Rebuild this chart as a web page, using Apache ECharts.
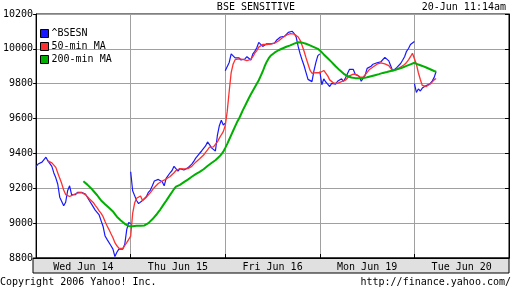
<!DOCTYPE html>
<html><head><meta charset="utf-8">
<script src="https://cdn.jsdelivr.net/npm/echarts@6/dist/echarts.min.js"></script>
<style>html,body{margin:0;padding:0;background:#fff}#c{width:512px;height:288px}</style>
</head><body><div id="c"></div>
<script>
// ---- data ----
const days = ['Wed Jun 14', 'Thu Jun 15', 'Fri Jun 16', 'Mon Jun 19', 'Tue Jun 20'];
const yMin = 8800, yMax = 10200, yStep = 200;
const stepsPerDay = 48; // samples per trading day

// ^BSESN price, one array per day (sample 0..48 of each day)
const priceWed = [9326,9339,9350,9350,9365,9378,9357,9350,9326,9288,9260,9223,9149,9140,9100,9120,9186,9214,9164,9167,9164,9177,9182,9177,9186,9167,9158,9130,9112,9102,9075,9075,9047,9013,8981,8926,8907,8898,8870,8851,8808,8833,8851,8855,8851,8879,8963,9004,8996];
const priceThu = [9295,9186,9158,9130,9112,9112,9130,9140,9153,9177,9190,9214,9242,9238,9251,9242,9238,9214,9257,9264,9289,9302,9326,9335,9298,9313,9320,9305,9302,9317,9320,9339,9354,9373,9382,9401,9414,9425,9443,9466,9451,9432,9429,9414,9503,9559,9590,9563,9574];
const priceFri = [9874,9878,9922,9971,9967,9948,9948,9948,9936,9942,9942,9955,9951,9936,9971,9986,10006,10037,10029,10014,10021,10029,10025,10029,10029,10033,10049,10058,10068,10076,10072,10080,10095,10103,10101,10087,10068,10014,9971,9936,9903,9864,9825,9819,9812,9874,9922,9961,9971];
const priceMon = [9870,9794,9828,9810,9798,9784,9802,9802,9798,9814,9804,9828,9814,9833,9841,9882,9877,9882,9853,9845,9843,9814,9833,9849,9888,9896,9900,9912,9904,9920,9920,9926,9922,9951,9959,9931,9902,9873,9873,9892,9900,9916,9935,9955,9986,10002,10025,10036,10042];
const priceTue = [9800,9750,9770,9758,9775,9780,9790,9795,9800,9815,9835,9870];

// 50-min moving average (sample 0..47 of each day)
const ma50Wed = [null,null,null,null,null,null,9357,9353,9346,9335,9320,9288,9257,9227,9190,9164,9153,9153,9158,9164,9167,9173,9177,9175,9171,9164,9153,9140,9130,9119,9102,9088,9071,9056,9037,9009,8985,8963,8939,8916,8888,8870,8857,8851,8855,8866,8888,8907];
const ma50Thu = [8925,9056,9115,9143,9140,9156,9130,9138,9149,9162,9175,9186,9205,9216,9227,9237,9242,9246,9253,9261,9268,9279,9289,9302,9309,9313,9311,9311,9313,9313,9319,9326,9335,9350,9358,9369,9380,9391,9406,9421,9436,9442,9438,9447,9466,9488,9507,9525];
const ma50Fri = [9560,9641,9757,9864,9913,9938,9948,9942,9936,9940,9936,9932,9936,9940,9955,9975,9990,10010,10019,10025,10025,10025,10025,10027,10029,10033,10037,10045,10054,10064,10072,10078,10084,10087,10087,10085,10080,10068,10049,10019,9986,9948,9913,9878,9860,9858,9864,9870];
const ma50Mon = [9863,9873,9876,9869,9845,9822,9812,9804,9800,9802,9808,9812,9806,9820,9833,9845,9855,9855,9857,9851,9839,9833,9837,9845,9865,9880,9890,9896,9902,9912,9918,9920,9920,9914,9912,9904,9888,9876,9876,9882,9888,9896,9902,9910,9922,9937,9955,9975];
const ma50Tue = [9985,9912,9863,9824,9790,9780,9784,9790,9798,9810,9822,9830];

// 200-min moving average
const ma200Wed = [null,null,null,null,null,null,null,null,null,null,null,null,null,null,null,null,null,null,null,null,null,null,null,null,9240,9231,9221,9210,9199,9186,9173,9160,9145,9130,9119,9108,9097,9088,9078,9067,9052,9037,9026,9015,9006,8996,8989,8983];
const ma200Thu = [8980,8982,8984,8985,8985,8985,8985,8987,8992,9000,9007,9022,9031,9048,9063,9078,9095,9112,9128,9145,9162,9179,9196,9209,9216,9220,9227,9235,9242,9250,9257,9266,9274,9281,9287,9294,9302,9309,9319,9328,9337,9345,9352,9361,9371,9382,9395,9410];
const ma200Fri = [9432,9455,9480,9505,9530,9555,9580,9600,9625,9650,9672,9695,9718,9740,9760,9780,9800,9820,9845,9870,9900,9925,9945,9960,9970,9978,9985,9992,9997,10002,10007,10012,10016,10020,10025,10030,10035,10038,10038,10036,10033,10029,10025,10020,10015,10010,10005,10000];
const ma200Mon = [9995,9980,9968,9957,9946,9935,9924,9912,9900,9889,9878,9867,9858,9850,9844,9840,9836,9834,9832,9831,9831,9831,9832,9834,9837,9840,9843,9846,9849,9852,9855,9859,9862,9864,9867,9870,9873,9876,9879,9882,9885,9889,9893,9897,9902,9906,9911,9916];
const ma200Tue = [9920,9914,9910,9906,9902,9898,9893,9888,9883,9878,9873,9869];

// ---- build ----
const FONT = 'DejaVu Sans Mono';
const BLUE = '#1818ff', RED = '#ff3030', GREEN = '#00b000';
const priceDays = [priceWed, priceThu, priceFri, priceMon, priceTue];
const ma50Days = [ma50Wed, ma50Thu, ma50Fri, ma50Mon, ma50Tue];
const ma200Days = [ma200Wed, ma200Thu, ma200Fri, ma200Mon, ma200Tue];

function toPairs(arr, d) {
  const out = [];
  arr.forEach((v, k) => { if (v !== null) out.push([d + k / stepsPerDay, v]); });
  return out;
}
function continuous(list) {
  let out = [];
  list.forEach((arr, d) => { out = out.concat(toPairs(arr, d)); });
  return out;
}

const series = [];
priceDays.forEach((arr, d) => {
  series.push({
    name: '^BSESN', type: 'line', data: toPairs(arr, d), symbol: 'none',
    lineStyle: { color: BLUE, width: 1.2 }, itemStyle: { color: BLUE }, z: 2
  });
});
series.push({
  name: '50-min MA', type: 'line', data: continuous(ma50Days), symbol: 'none',
  lineStyle: { color: RED, width: 1.3 }, itemStyle: { color: RED }, z: 3
});
series.push({
  name: '200-min MA', type: 'line', data: continuous(ma200Days), symbol: 'none',
  lineStyle: { color: GREEN, width: 2 }, itemStyle: { color: GREEN }, z: 4
});

const chart = echarts.init(document.getElementById('c'), null, { renderer: 'canvas' });
chart.setOption({
  animation: false,
  backgroundColor: '#fff',
  textStyle: { fontFamily: FONT },
  grid: { left: 33, right: 3, top: 14, bottom: 30, show: true, borderColor: '#000', borderWidth: 1, backgroundColor: 'transparent' },
  legend: {
    left: 35, top: 22, orient: 'vertical', icon: 'rect', itemWidth: 8, itemHeight: 8, itemGap: 0,
    data: ['^BSESN', '50-min MA', '200-min MA'],
    itemStyle: { borderColor: '#000', borderWidth: 1 },
    textStyle: { fontFamily: FONT, fontSize: 10, color: '#000', lineHeight: 13, padding: [0, 0, 0, -2] },
    selectedMode: false
  },
  xAxis: [{
    type: 'value', min: 0, max: days.length, interval: 1,
    axisLine: { show: true, lineStyle: { color: '#000' } },
    axisTick: { show: true, inside: true, length: 4, lineStyle: { color: '#000' } },
    axisLabel: { show: false },
    splitLine: { show: true, lineStyle: { color: '#a0a0a0', width: 1 } }
  }, {
    type: 'category', data: days, position: 'bottom', boundaryGap: true,
    axisLine: { show: false }, axisTick: { show: false }, splitLine: { show: false },
    axisLabel: { margin: 4, fontFamily: FONT, fontSize: 10, color: '#000' }
  }],
  yAxis: [{
    type: 'value', min: yMin, max: yMax, interval: yStep,
    axisLine: { show: true, lineStyle: { color: '#000' } },
    axisTick: { show: true, length: 3, lineStyle: { color: '#000' } },
    axisLabel: { margin: 3, fontFamily: FONT, fontSize: 10, color: '#000', formatter: v => String(v) },
    splitLine: { show: true, lineStyle: { color: '#a0a0a0', width: 1 } }
  }, {
    type: 'value', min: yMin, max: yMax, interval: yStep, position: 'right',
    axisLine: { show: true, lineStyle: { color: '#000' } },
    axisTick: { show: true, inside: true, length: 4, lineStyle: { color: '#000' } },
    axisLabel: { show: false }, splitLine: { show: false }
  }],
  graphic: [
    { type: 'rect', z: -1, shape: { x: 33, y: 258, width: 476, height: 15 }, style: { fill: '#e0e0e0', stroke: '#000', lineWidth: 1 } },
    { type: 'text', x: 256, y: 7, style: { text: 'BSE SENSITIVE', font: '10px "' + FONT + '"', fill: '#000', textAlign: 'center', textVerticalAlign: 'middle' } },
    { type: 'text', x: 506, y: 7, style: { text: '20-Jun 11:14am', font: '10px "' + FONT + '"', fill: '#000', textAlign: 'right', textVerticalAlign: 'middle' } },
    { type: 'text', x: 0, y: 282, style: { text: 'Copyright 2006 Yahoo! Inc.', font: '10px "' + FONT + '"', fill: '#000', textAlign: 'left', textVerticalAlign: 'middle' } },
    { type: 'text', x: 511, y: 282, style: { text: 'http://finance.yahoo.com/', font: '10px "' + FONT + '"', fill: '#000', textAlign: 'right', textVerticalAlign: 'middle' } }
  ],
  series: series
});
</script>
</body></html>
